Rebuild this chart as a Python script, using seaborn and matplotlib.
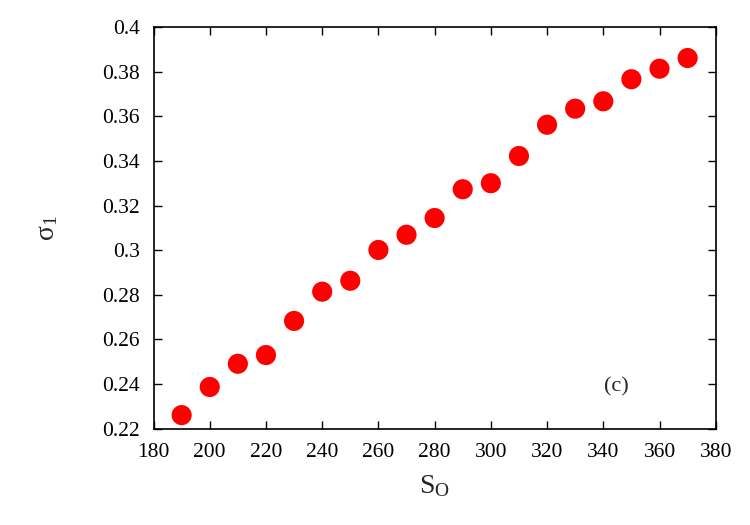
import matplotlib
matplotlib.use("Agg")
import matplotlib.pyplot as plt
import seaborn as sns
import pandas as pd

s_o = [190, 200, 210, 220, 230, 240, 250, 260, 270, 280, 290, 300, 310, 320, 330, 340, 350, 360, 370]
sigma1 = [0.2261, 0.2387, 0.2491, 0.2530, 0.2683, 0.2814, 0.2863, 0.3001, 0.3069, 0.3144,
          0.3273, 0.3300, 0.3422, 0.3562, 0.3634, 0.3667, 0.3766, 0.3813, 0.3861]
x_ticks = [180, 200, 220, 240, 260, 280, 300, 320, 340, 360, 380]
y_ticks = [0.22, 0.24, 0.26, 0.28, 0.30, 0.32, 0.34, 0.36, 0.38, 0.40]
y_tick_labels = ["0.22", "0.24", "0.26", "0.28", "0.3", "0.32", "0.34", "0.36", "0.38", "0.4"]

sns.set_style("ticks")
plt.rcParams["font.family"] = ["Liberation Serif", "DejaVu Serif"]
plt.rcParams["mathtext.fontset"] = "custom"
plt.rcParams["mathtext.rm"] = "Liberation Serif"

df = pd.DataFrame({"S_O": s_o, "sigma1": sigma1})

fig = plt.figure(figsize=(7.5, 5.25), dpi=100)
ax = fig.add_axes([0.2047, 0.1834, 0.7496, 0.7652])
sns.scatterplot(data=df, x="S_O", y="sigma1", ax=ax, color="#ff0000", s=210,
                edgecolor="none", linewidth=0, legend=False, zorder=3)

ax.set_xlim(180, 380)
ax.set_ylim(0.22, 0.40)
ax.set_xticks(x_ticks)
ax.set_xticklabels([str(t) for t in x_ticks])
ax.set_yticks(y_ticks)
ax.set_yticklabels(y_tick_labels)
ax.tick_params(direction="in", length=6, width=1, top=True, right=True,
               labelsize=15.5, pad=10, colors="black")
for sp in ax.spines.values():
    sp.set_linewidth(1.2)
    sp.set_color("black")

ax.set_xlabel(r"$\mathregular{S_O}$", fontsize=20, labelpad=8)
ax.set_ylabel(r"$\mathregular{σ_1}$", fontsize=20, labelpad=30)
ax.text(344.5, 0.2388, "(c)", fontsize=16, ha="center", va="center")

fig.savefig("out.png", dpi=100)
